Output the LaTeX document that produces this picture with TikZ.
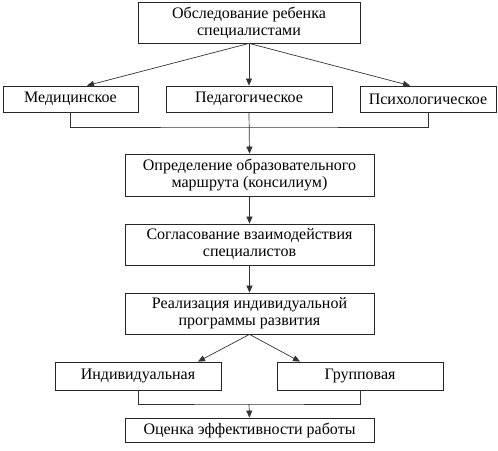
\documentclass[tikz,border=0pt]{standalone}
\usepackage{fontspec}
\setmainfont{Liberation Serif}
\usetikzlibrary{arrows.meta}
\begin{document}
\begin{tikzpicture}[x=1pt,y=-1pt,
  box/.style={draw=black!85,line width=0.8pt,inner sep=0pt,align=center,font=\fontsize{16}{17}\selectfont},
  conn/.style={draw=black!80,line width=0.7pt},
  arr/.style={conn,-{Triangle[length=7pt,width=6pt]}}]
\useasboundingbox (0,0) rectangle (498,450);
\node[box,minimum width=222pt,minimum height=41pt] (top) at (249,22.5) {Обследование ребенка\\специалистами};
\node[box,minimum width=135pt,minimum height=26pt] (med) at (70.5,99) {Медицинское};
\node[box,minimum width=166pt,minimum height=26pt] (ped) at (249,99) {Педагогическое};
\node[box,minimum width=136pt,minimum height=26pt] (psy) at (428,99) {Психологическое};
\node[box,minimum width=249pt,minimum height=42pt] (opr) at (249.5,175) {Определение образовательного\\маршрута (консилиум)};
\node[box,minimum width=249pt,minimum height=41pt] (sogl) at (249.5,244.5) {Согласование взаимодействия\\специалистов};
\node[box,minimum width=249pt,minimum height=41pt] (real) at (249.5,313.5) {Реализация индивидуальной\\программы развития};
\node[box,minimum width=166pt,minimum height=28pt] (ind) at (138,376) {Индивидуальная};
\node[box,minimum width=166pt,minimum height=28pt] (grp) at (360,376) {Групповая};
\node[box,minimum width=249pt,minimum height=24pt] (ocen) at (249.5,430) {Оценка эффективности работы};
\coordinate (bus1) at (249,127);
\coordinate (bus2) at (249,404);
\draw[arr] (top.south) -- ([xshift=16.5pt]med.north);
\draw[arr] (top.south) -- (ped.north);
\draw[arr] (top.south) -- ([xshift=-18pt]psy.north);
\draw[conn] (med.south) |- (bus1) -| (psy.south);
\draw[arr] (ped.south) -- (opr.north);
\draw[arr] (opr.south) -- (sogl.north);
\draw[arr] (sogl.south) -- (real.north);
\draw[arr] (real.south) -- ([xshift=60pt]ind.north);
\draw[arr] (real.south) -- ([xshift=-60pt]grp.north);
\draw[conn] (ind.south) |- (bus2) -| (grp.south);
\draw[arr] (bus2) -- (ocen.north);
\end{tikzpicture}
\end{document}
